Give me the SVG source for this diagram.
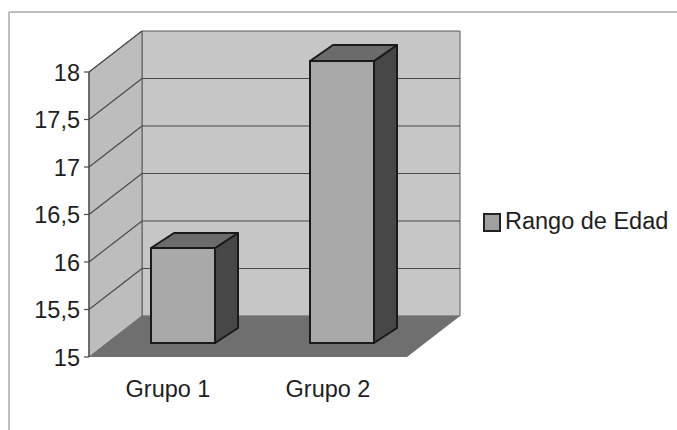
<svg xmlns="http://www.w3.org/2000/svg" width="677" height="430" viewBox="0 0 677 430">
<style>
.lbl{font-family:"Liberation Sans",Arial,sans-serif;font-size:23.5px;fill:#1e1e1e}
.grid{stroke:#4a4a4a;stroke-width:1.2;fill:none}
.bar{stroke:#1a1a1a;stroke-width:2;stroke-linejoin:round}
.front{fill:#a9a9a9}
.top{fill:#6b6b6b}
.side{fill:#474747}
</style>
<rect width="677" height="430" fill="#ffffff"/>
<g id="frame" fill="none" stroke="#bdbdbd" stroke-width="2">
<line x1="9" y1="12" x2="677" y2="12"/>
<line x1="9" y1="12" x2="9" y2="430"/>
</g>
<g id="chart-area">
<polygon points="142,31 460,31 460,316 142,316" fill="#c6c6c6" stroke="#5a5a5a" stroke-width="1"/>
<polygon points="89,72 142,31 142,316 89,357" fill="#bdbdbd" stroke="#5a5a5a" stroke-width="1"/>
<polygon points="89,357 142,316 460,316 407,357" fill="#6f6f6f"/>
<g class="grid">
<line x1="142" y1="78.5" x2="460" y2="78.5"/>
<line x1="142" y1="126" x2="460" y2="126"/>
<line x1="142" y1="173.5" x2="460" y2="173.5"/>
<line x1="142" y1="221" x2="460" y2="221"/>
<line x1="142" y1="268.5" x2="460" y2="268.5"/>
<line x1="89" y1="72" x2="142" y2="31"/>
<line x1="89" y1="119.5" x2="142" y2="78.5"/>
<line x1="89" y1="167" x2="142" y2="126"/>
<line x1="89" y1="214.5" x2="142" y2="173.5"/>
<line x1="89" y1="262" x2="142" y2="221"/>
<line x1="89" y1="309.5" x2="142" y2="268.5"/>
<line x1="89" y1="72" x2="89" y2="357"/>
<line x1="84" y1="72" x2="89" y2="72"/>
<line x1="84" y1="119.5" x2="89" y2="119.5"/>
<line x1="84" y1="167" x2="89" y2="167"/>
<line x1="84" y1="214.5" x2="89" y2="214.5"/>
<line x1="84" y1="262" x2="89" y2="262"/>
<line x1="84" y1="309.5" x2="89" y2="309.5"/>
<line x1="84" y1="357" x2="89" y2="357"/>
</g>
</g>
<g id="axis-labels" class="lbl" text-anchor="end">
<text x="80" y="80.5">18</text>
<text x="80" y="128">17,5</text>
<text x="80" y="175.5">17</text>
<text x="80" y="223">16,5</text>
<text x="80" y="270.5">16</text>
<text x="80" y="318">15,5</text>
<text x="80" y="365.5">15</text>
</g>
<g id="bar-grupo1" class="bar">
<polygon class="side" points="215,248 238,233 238,328 215,343"/>
<polygon class="top" points="151,248 174,233 238,233 215,248"/>
<rect class="front" x="151" y="248" width="64" height="95"/>
</g>
<g id="bar-grupo2" class="bar">
<polygon class="side" points="374,61 397,45 397,328 374,343"/>
<polygon class="top" points="310,61 333,45 397,45 374,61"/>
<rect class="front" x="310" y="61" width="64" height="282"/>
</g>
<g id="category-labels" class="lbl" text-anchor="middle">
<text x="168" y="396.5">Grupo 1</text>
<text x="328" y="396.5">Grupo 2</text>
</g>
<g id="legend">
<rect x="484" y="214" width="16" height="17" fill="#a0a0a0" stroke="#222" stroke-width="2"/>
<text class="lbl" x="505" y="228.5">Rango de Edad</text>
</g>
</svg>
